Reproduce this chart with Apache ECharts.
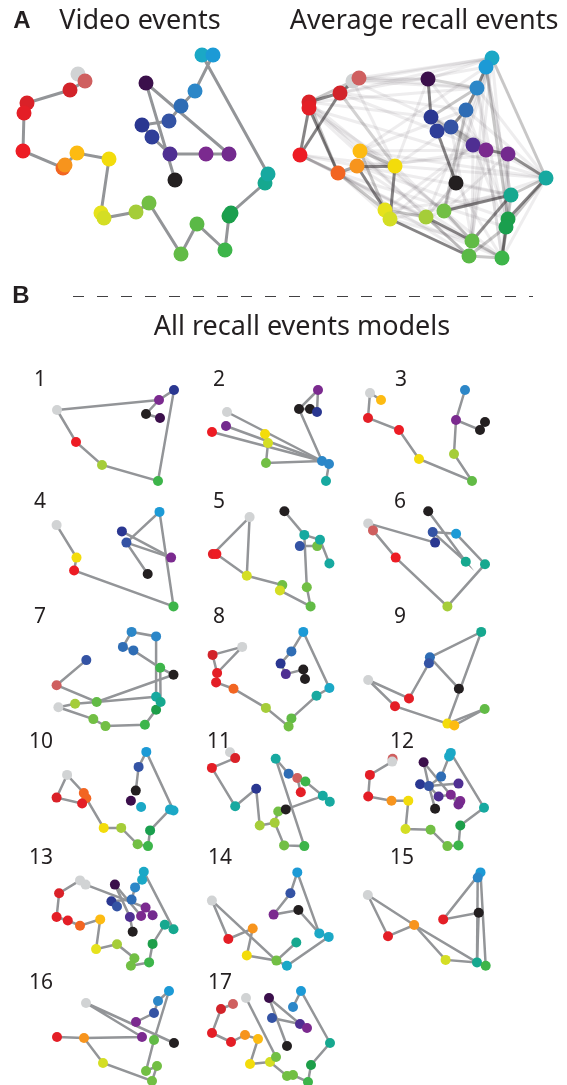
<!DOCTYPE html>
<html><head><meta charset="utf-8">
<script src="https://cdn.jsdelivr.net/npm/echarts/dist/echarts.min.js"></script>
<style>html,body{margin:0;padding:0;background:#fff}#c{width:567px;height:1085px}</style>
</head><body><div id="c"></div><script>
// Event colour scale (index = event number along the video)
const PALETTE = ['#d1d3d4','#cf5f5f','#d2232a','#da2128','#e41e26','#ed1c24','#f26522','#f7941d','#fdbb12','#f3dc0b',
  '#e6e21c','#d4de24','#a5cd39','#72bf44','#62bb46','#5ab946','#3db54a','#1d9e49','#1a9f4e','#16a88f','#17a9a0',
  '#1ba8c6','#1c9ad6','#2c87c8','#2f6db5','#3453a4','#2a3791','#2f3e98','#4f2f92','#7b2a8f','#732a8e','#3b0f4b','#231f20'];

// [x, y, colourIndex] in each panel's own embedding units
const videoPts = [[78,74,0],[85,81,1],[70,90,2],[27,103,3],[24,113,4],[23,151,5],[63,168,6],[65,165,7],[77,153,8],[109,159,9],
  [101,213,10],[104,218,11],[136,212,12],[149,203,13],[181,254,14],[197,224,15],[225,250,16],[229,216,17],[231,213,18],[265,183,19],
  [268,174,20],[202,55,21],[213,55,22],[195,91,23],[181,106,24],[169,121,25],[142,125,26],[152,137,27],[170,154,28],[206,154,29],
  [229,154,30],[146,83,31],[175,180,32]];
const videoLinks = [[0,1,2,3,4,5,6,7,8,9,10,11,12,13,14,15,16,17,18,19,20,21,22,23,24,25,26,27,28,29,30,31,32]];

const avgPts = [[73,81,0],[79,78,1],[60,93,2],[29,102,3],[29,108,4],[20,155,5],[58,173,6],[77,166,7],[80,151,8],[115,166,9],
  [105,210,10],[110,219,11],[146,217,12],[164,211,13],[192,241,14],[189,256,15],[222,258,16],[228,219,17],[226,227,18],[231,195,19],
  [266,178,20],[212,58,21],[206,67,22],[197,88,23],[186,110,24],[171,127,25],[151,117,26],[157,131,27],[193,145,28],[206,150,29],
  [228,154,30],[148,79,31],[176,183,32]];
// [from, to, strength]
const avgEdges = [
  [2,3,.55],[3,4,.55],[4,5,.55],[2,5,.55],[4,6,.55],[7,9,.5],[7,10,.55],[9,11,.55],[11,15,.55],[12,14,.5],[13,19,.55],[16,18,.55],[17,18,.55],
  [17,20,.55],[21,22,.5],[22,23,.55],[23,24,.55],[24,25,.5],[25,27,.5],[26,31,.55],[27,32,.55],[28,29,.5],[29,30,.5],[30,20,.5],[19,14,.5],
  [10,11,.5],[6,7,.4],[0,1,.4],[1,2,.4],[0,2,.4],
  [3,6,.25],[5,6,.25],[0,3,.25],[8,10,.25],[21,20,.25],[22,17,.25],[24,13,.25],[14,16,.25],[15,16,.25],[17,19,.25],[12,15,.25],[6,10,.25],
  [23,26,.25],[26,28,.25],[25,29,.25],[19,20,.25],[13,14,.25],[15,18,.25],[31,23,.2],[26,27,.25],[8,9,.25],[2,9,.2],[10,12,.25],[20,18,.25],[16,17,.25],
  [0,23,.08],[1,21,.08],[2,24,.08],[3,26,.08],[4,9,.08],[5,9,.08],[0,9,.08],[3,12,.08],[4,13,.08],[5,12,.08],[6,11,.08],[8,22,.08],
  [8,24,.08],[9,25,.08],[9,20,.08],[10,28,.08],[11,28,.08],[12,32,.08],[13,21,.08],[14,21,.08],[15,22,.08],[16,20,.08],[16,23,.08],
  [17,21,.08],[18,30,.08],[19,22,.08],[20,23,.08],[20,24,.08],[20,26,.08],[14,28,.08],[15,29,.08],[16,30,.08],[12,20,.08],[11,19,.08],
  [10,19,.08],[7,30,.08],[8,20,.08],[6,29,.08],[5,14,.08],[4,15,.08],[3,16,.08],[2,21,.08],[0,26,.08],[1,31,.08],[0,31,.08],[3,23,.08],
  [2,27,.08],[6,18,.08],[7,17,.08],[9,14,.08],[10,16,.08],[12,21,.08],[13,22,.08],[26,30,.08],[27,29,.08],[31,21,.08],[31,29,.08],
  [32,19,.08],[32,16,.08],[32,12,.08],[25,14,.08],[24,17,.08],[23,18,.08],[22,19,.08],[28,18,.08],[29,16,.08],[30,17,.08],[8,29,.08],
  [9,31,.08],[5,16,.08],[1,23,.08],[0,21,.08],[2,22,.08],[4,20,.08],[5,19,.08],[6,15,.08],[7,14,.08],[11,14,.08],[13,30,.08]];

// Individual recall models
const p1Pts = [[37,45,0],[56,77,5],[82,100,12],[138,116,16],[154,25,26],[139,35,29],[126,49,32],[140,53,31]];
const p1Links = [[0,1,2,3,4,5,6,7],[0,5]];
const p2Pts = [[32,47,0],[31,61,30],[17,67,5],[70,69,9],[73,78,11],[71,98,13],[127,96,23],[134,99,23],[131,116,20],[104,44,32],[115,44,32],[122,47,26],[123,25,29]];
const p2Links = [[0,6],[1,6],[2,6],[3,4,5,6,7,8],[6,9,12,11,10,9]];
const p3Pts = [[5,28,0],[16,35,8],[3,53,4],[34,65,5],[54,94,9],[107,116,14],[89,89,12],[91,55,29],[100,25,23],[115,65,32],[120,57,32]];
const p3Links = [[1,0,2,3,4,5,6,7,8],[7,9,10]];
const p4Pts = [[36.6,40.1,0],[56.5,72.6,9],[54.1,85.5,5],[153.5,121.4,16],[139.5,26.9,22],[101.9,46.4,26],[106.4,57.6,25],[151.1,72.6,29],[127.7,89,32]];
const p4Links = [[0,1,2,3,4,6,8],[5,7],[6,7]];
const p5Pts = [[54.6,32.1,0],[17.9,69.1,4],[21.4,69.1,5],[51.8,90.7,11],[87.3,100.1,13],[84.9,105.4,11],[115.6,121.4,14],[111.8,102.2,13],
  [109.3,49.9,20],[104.8,61.1,25],[122.2,61.1,13],[125,54.8,20],[134.4,78.5,20],[89.4,26.2,32]];
const p5Links = [[1,0,3,4,5,6,7,8,11,12],[2,3],[13,8],[9,10]];
const p6Pts = [[3.2,38.4,0],[8,45.4,1],[30.7,72.6,5],[82.4,121.4,12],[120,79.2,19],[91.1,48.8,22],[67.7,47.1,25],[70.1,57.6,26],[100.8,76.7,19],[63.2,26.2,32]];
const p6Links = [[0,1,2,3,4,5,6,8,9],[0,7],[6,7]];
const p7Pts = [[66.3,55.1,25],[36.6,80.2,1],[38.4,102.2,0],[55.1,98.7,12],[76.7,97,14],[73.3,114.1,13],[85.5,121.1,13],[124.9,119.7,16],
  [136.1,104.7,17],[136.1,91.7,20],[140.6,97,19],[140.2,62.8,16],[153.5,69.8,32],[111.6,26.9,23],[136.1,31.4,23],[102.9,41.9,24],[113.4,45.4,24]];
const p7Links = [[0,1,4,9],[2,3,4,12,11,16,15,13,14,9],[2,5,6,7,8,10,11]];
const p8Pts = [[47.2,41.9,0],[17.6,49.9,2],[22.1,68,4],[21.1,77.4,4],[38.5,83.7,6],[70.9,102.9,12],[96.4,113.4,14],[93.6,121.4,13],
  [121.5,90.7,20],[134.4,83,21],[108.3,26.9,22],[96.4,46.4,24],[85.6,58.6,26],[90.8,69.1,28],[108.3,64.5,32],[110,74,32]];
const p8Links = [[1,0,2],[1,2,3,4,5,7,6,8,9,10,11,12,13,14,15]];
const p9Pts = [[3.2,75,0],[30,101.2,4],[44,93.5,4],[64.9,52.3,24],[63.9,58.3,25],[93.9,83.7,32],[116.2,26.9,19],[82.4,118.6,9],[89.3,120.4,8],[119.7,104,14]];
const p9Links = [[0,1,7,8,9],[0,2,4,3,6,7],[3,5],[7,9]];
const p10Pts = [[47.1,49.9,0],[36.6,72.6,3],[63.8,68,6],[66.3,73.3,6],[62.1,78.5,4],[83.7,102.9,9],[101.2,102.9,12],[117.6,119.3,13],
  [128,121.1,16],[130.1,105.4,18],[150,84.4,21],[153.5,85.5,21],[126.3,26.9,22],[118.6,41.9,25],[115.8,65.6,32],[110.9,75.7,31],[121.1,82,21]];
const p10Links = [[1,0,2,3,5,6,7,8,9,10,11,12,13,14],[1,4,3]];
const p11Pts = [[35,27.2,0],[40.2,33.1,3],[16.9,42.9,4],[40.2,81.3,20],[61.2,63.8,26],[64.7,100.5,12],[79.7,97.7,12],[83.2,86.5,13],
  [90.8,84.4,32],[89.1,120.4,13],[109.3,121.1,16],[80.7,33.8,20],[93.6,48.8,24],[102.3,53,1],[110.4,56.5,16],[105.8,67.3,4],[127.8,70.8,20],[134.8,76.7,20]];
const p11Links = [[0,1,2,3,4,5,6,9,10,11,12,13,15],[12,14,16,17],[6,7,8,16]];
const p12Pts = [[27.6,33.8,1],[27.2,36.6,0],[4.9,49.9,4],[3.2,71.5,4],[26.5,75.7,7],[43.3,75.7,9],[40.5,104,11],[65.6,104.7,13],
  [82.4,121.1,13],[93.5,120.4,16],[95.3,100.5,17],[119,82.7,20],[85.8,27.9,21],[84.1,31.4,21],[76.1,51.6,24],[55.1,59.3,26],
  [63.9,61.1,25],[58.6,37.3,31],[73.6,71.5,28],[93.5,58.6,28],[85.8,69.8,29],[95.3,76.1,29],[93.5,79.5,30],[70.1,83.7,32]];
const p12Links = [[1,2,3,4,5,6,7,8,9,10,11,12,13,14,16,18,20,21],[17,16,23],[17,22],[15,16,19]];
const p13Pts = [[60,38.4,0],[65.6,42.6,0],[39.1,51.3,3],[36.6,75,4],[47.8,78.5,4],[60,83.7,6],[80.2,77.4,8],[76.1,107.1,10],
  [97,102.2,12],[114.4,116.2,13],[110.9,123.8,13],[129.1,120.4,16],[132.6,101.9,17],[153.5,87.2,19],[144.8,82.7,19],[123.8,29.7,21],
  [122.1,37.7,21],[115.1,45.4,23],[111.6,57.6,24],[91.4,59.3,26],[97,64.5,25],[94.9,42.6,31],[109.9,75,28],[125.6,65.6,29],
  [121.1,74,29],[132.6,73.3,30],[112.7,89.7,32]];
const p13Links = [[0,2,3,4,5,6,7,8,9,10,11,12,14,13,15,16,17,18,19,20],[1,23,25],[21,22,26],[21,24]];
const p14Pts = [[16.9,58.6,0],[33.3,97,4],[57.7,86.5,7],[51.8,113.4,9],[81.4,118.6,13],[91.9,123.8,21],[101.3,100.5,19],[124.3,91.4,21],
  [133.7,94.9,21],[103.4,68,32],[78.6,72.6,29],[95.4,51.3,25],[102.3,30.4,22]];
const p14Links = [[0,1,2,3,4,6],[0,4,5,8,7,9,10,11,12,7]];
const p15Pts = [[2.8,53,0],[23,94.2,4],[49.2,83,7],[80.6,117.9,11],[112,120.4,19],[120.7,123.8,16],[78.2,77.4,4],[113.7,70.8,32],[115.5,30.4,22],[112.7,35.6,23]];
const p15Links = [[0,1,2,3,4,5,8,6,7,4],[0,2,4],[9,4]];
const p16Pts = [[66,43,0],[37,77,4],[64,78,7],[83,103,11],[126,111,13],[137,106,13],[132,121,13],[134,80,14],[122,77,29],[116,62,29],
  [134,53,25],[138,41,23],[149,31,22],[154,83,32]];
const p16Links = [[1,2,8,0,13],[2,3,6,5,4,7,12],[9,10,11,12]];
const p17Pts = [[51,38,0],[38,44,1],[26,49,2],[17,73,4],[36,82,4],[50,75,7],[63,79,8],[55,104,9],[75,102,11],[81,97,13],[92,116,13],
  [98,115,13],[113,122,16],[116,105,17],[135,83,19],[106,31,22],[98,47,23],[77,58,25],[74,38,31],[105,64,28],[112,68,29],[92,86,32]];
const p17Links = [[1,2,3,4,5,6,7,8,10,11,12,13,14,15,16],[0,9],[18,21],[18,19,20],[17,19]];

const PANEL_LABELS = ['1','2','3','4','5','6','7','8','9','10','11','12','13','14','15','16','17'];

// ---- layout ----
const SMALL = [
  [p1Pts,p1Links,20,365,20,15],[p2Pts,p2Links,195,365,24,15],[p3Pts,p3Links,365,365,36,15],
  [p4Pts,p4Links,20,485,20,17],[p5Pts,p5Links,195,485,24,17],[p6Pts,p6Links,365,485,35,17],
  [p7Pts,p7Links,20,605,20,12],[p8Pts,p8Links,195,605,24,12],[p9Pts,p9Links,365,605,35,12],
  [p10Pts,p10Links,20,725,21,17],[p11Pts,p11Links,195,725,24,17],[p12Pts,p12Links,365,725,37,17],
  [p13Pts,p13Links,20,842,21,16],[p14Pts,p14Links,195,842,25,16],[p15Pts,p15Links,365,842,37,16],
  [p16Pts,p16Links,20,960,21,23],[p17Pts,p17Links,195,960,25,23]
];
const FONT = '"Noto Sans", sans-serif';
const TXT = '#231f20';
const LINEC = '#939598';

const grid = [], xAxis = [], yAxis = [], series = [], graphic = [];
function addPanel(left, top, w, h) {
  const i = grid.length;
  grid.push({left, top, width: w, height: h});
  xAxis.push({gridIndex: i, type: 'value', min: 0, max: w, show: false});
  yAxis.push({gridIndex: i, type: 'value', min: 0, max: h, inverse: true, show: false});
  return i;
}
function scatter(i, pts, size) {
  series.push({type: 'scatter', xAxisIndex: i, yAxisIndex: i, symbolSize: size, clip: false, silent: true, z: 3,
    data: pts.map(p => ({value: [p[0], p[1]], itemStyle: {color: PALETTE[p[2]], opacity: 1}}))});
}
function chains(i, pts, links, width) {
  series.push({type: 'lines', coordinateSystem: 'cartesian2d', xAxisIndex: i, yAxisIndex: i, polyline: true, silent: true, z: 2,
    lineStyle: {color: LINEC, width: width, opacity: 1},
    data: links.map(ch => ({coords: ch.map(k => [pts[k][0], pts[k][1]])}))});
}

// Panel A
let gi = addPanel(0, 0, 285, 280);
chains(gi, videoPts, videoLinks, 3);
scatter(gi, videoPts, 15);
gi = addPanel(280, 0, 287, 280);
series.push({type: 'lines', coordinateSystem: 'cartesian2d', xAxisIndex: gi, yAxisIndex: gi, silent: true, z: 2,
  lineStyle: {color: '#231f20', width: 3},
  data: avgEdges.map(e => ({coords: [[avgPts[e[0]][0], avgPts[e[0]][1]], [avgPts[e[1]][0], avgPts[e[1]][1]]], lineStyle: {opacity: e[2]}}))});
scatter(gi, avgPts, 15);

SMALL.forEach((s, k) => {
  const i = addPanel(s[2], s[3], 170, 125);
  chains(i, s[0], s[1], 2.5);
  scatter(i, s[0], 10);
  graphic.push({type: 'text', x: s[2] + s[4], y: s[3] + s[5], style: {text: PANEL_LABELS[k], font: '21px ' + FONT, fill: TXT, align: 'center', verticalAlign: 'middle'}});
});

graphic.push(
  {type: 'text', x: 22, y: 21, style: {text: 'A', font: 'bold 24px "Liberation Sans", Arial, sans-serif', fill: TXT, align: 'center', verticalAlign: 'middle'}},
  {type: 'text', x: 140, y: 21, style: {text: 'Video events', font: '27px ' + FONT, fill: TXT, align: 'center', verticalAlign: 'middle'}},
  {type: 'text', x: 424, y: 21, style: {text: 'Average recall events', font: '27px ' + FONT, fill: TXT, align: 'center', verticalAlign: 'middle'}},
  {type: 'text', x: 21, y: 296, style: {text: 'B', font: 'bold 24px "Liberation Sans", Arial, sans-serif', fill: TXT, align: 'center', verticalAlign: 'middle'}},
  {type: 'line', shape: {x1: 73, y1: 296.5, x2: 533, y2: 296.5}, style: {stroke: '#414042', lineWidth: 1, lineDash: [11, 13]}},
  {type: 'text', x: 302, y: 327, style: {text: 'All recall events models', font: '27px ' + FONT, fill: TXT, align: 'center', verticalAlign: 'middle'}}
);

const chart = echarts.init(document.getElementById('c'), null, {renderer: 'canvas'});
chart.setOption({animation: false, backgroundColor: '#fff', grid, xAxis, yAxis, series, graphic});
</script></body></html>
